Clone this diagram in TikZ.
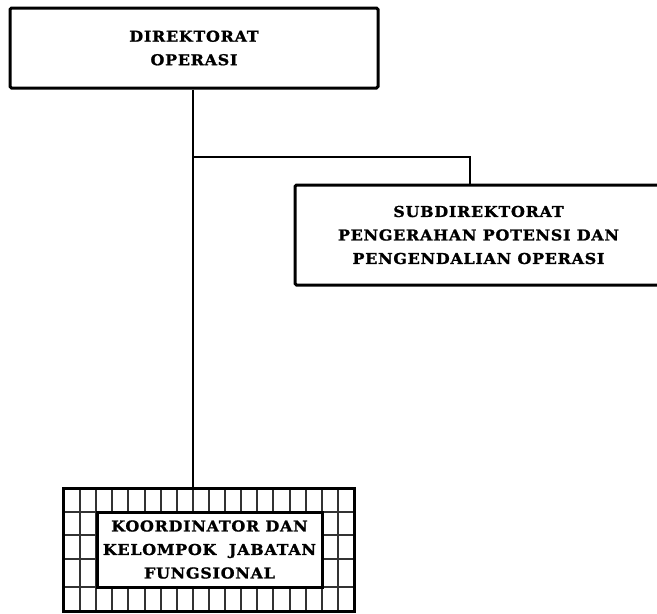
\documentclass[tikz,border=0pt]{standalone}
\usepackage{fontspec}
\newfontfamily\orgfont[FakeStretch=1.06, LetterSpace=5,
  BoldFeatures={FakeBold=1.2}]{DejaVu Serif}
\tikzset{
  orgbox/.style={draw=black, line width=3pt, rounded corners=1.5pt, fill=white,
    align=center, inner sep=0pt,
    font=\orgfont\bfseries\fontsize{15}{23.5}\selectfont},
  link/.style={draw=black, line width=2pt},
  gridline/.style={draw=black!80, line width=2pt}
}
\begin{document}
\begin{tikzpicture}[x=1pt,y=-1pt]
  \useasboundingbox (0,0) rectangle (657,614);
  \clip (0,0) rectangle (657,614);
  \fill[white] (0,0) rectangle (657,614);

  % head office
  \node[orgbox, minimum width=368pt, minimum height=80pt] (dir) at (194,48)
    {DIREKTORAT\\OPERASI};

  % sub-directorate, running past the right edge
  \node[orgbox, minimum width=367pt, minimum height=100pt] (sub) at (478.5,235)
    {SUBDIREKTORAT\\PENGERAHAN POTENSI DAN\\PENGENDALIAN OPERASI};

  % functional group: chequered frame around a plain box
  \node[minimum width=290pt, minimum height=122pt, inner sep=0pt]
    (grid) at (209,550) {};
  \begin{scope}
    \clip (grid.south west) rectangle (grid.north east);
    \foreach \i in {1,...,17}
      \draw[gridline] (64+\i*16.11,489) -- (64+\i*16.11,611);
    \foreach \yy in {512,535,559,587}
      \draw[gridline] (64,\yy) -- (354,\yy);
  \end{scope}
  \draw[black, line width=3pt] (grid.south west) rectangle (grid.north east);
  \node[orgbox, rounded corners=0pt, minimum width=225pt, minimum height=75pt] (fung)
    at (209.5,549.5)
    {KOORDINATOR DAN\\KELOMPOK\ \ JABATAN\\FUNGSIONAL};

  % connectors
  \coordinate (trunk) at (193,157);
  \coordinate (drop) at (470,157);
  \draw[link] (dir.south -| trunk) -- (grid.north -| trunk);
  \draw[link] (trunk) -- (drop) -- (drop |- sub.north);
\end{tikzpicture}
\end{document}
